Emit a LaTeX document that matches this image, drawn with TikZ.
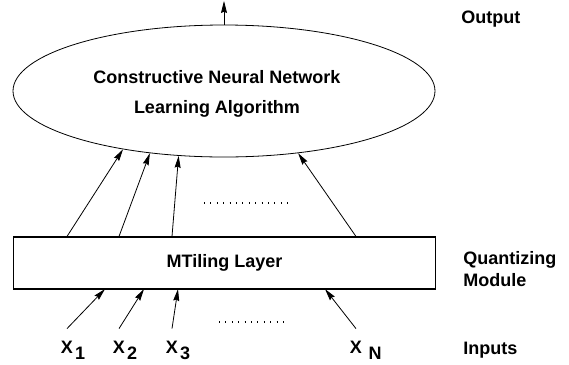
\documentclass[tikz,border=0pt]{standalone}
\usepackage{fontspec}
\setmainfont{Liberation Sans}
\usetikzlibrary{arrows.meta}
\usetikzlibrary{shapes}
\usetikzlibrary{positioning}

% index set low beside the X, without widening the node
\newcommand{\idx}[2][1.5pt]{\rlap{\hspace{#1}\raisebox{-5pt}{#2}}}

\begin{document}
\begin{tikzpicture}[x=0.75pt,y=-0.75pt,
        every node/.style={font=\fontsize{13.5}{16}\selectfont\bfseries},
        arr/.style={draw,line width=0.6pt,-{Stealth[length=9pt,width=4.5pt,inset=1pt]}},
        dots/.style={line width=0.8pt,dash pattern=on 0.8pt off 4pt},
        input/.style={anchor=base,inner sep=1pt,outer sep=8pt},
        side/.style={anchor=west,align=left,inner sep=0pt},
  ]
    \useasboundingbox (0,0) rectangle (569,365);

    % algorithm on top, quantizing layer under it
    \node[ellipse,draw,line width=0.6pt,minimum width=316.5pt,minimum height=99pt] (cnn) at (224,91) {};
    \node[align=center,font=\fontsize{13.5}{22}\selectfont\bfseries] (cnntext) at (217,94)
        {Constructive Neural Network\\Learning Algorithm};
    \node[rectangle,draw,line width=0.8pt,minimum width=317pt,minimum height=39pt] (mtl) at (224.5,263)
        {MTiling Layer};

    % inputs
    \node[input] (x1) at (67,353) {X\idx{1}};
    \node[input] (x2) at (119,353) {X\idx{2}};
    \node[input] (x3) at (172,353) {X\idx{3}};
    \node[input] (xn) at (356,353) {X\idx[5pt]{N}};

    \node[side] (outlbl) at (461,19) {Output};
    \node[side] (qlbl) at (463,269) {Quantizing\\Module};
    \node[side] (inlbl) at (463,350) {Inputs};

    \coordinate (out) at (224,1);
    \coordinate (h1) at (105,289);
    \coordinate (h2) at (144,289);
    \coordinate (h3) at (178,289);
    \coordinate (hn) at (325,289);

    % inputs into the layer
    \draw[arr] (x1.north) -- (h1);
    \draw[arr] (x2.north) -- (h2);
    \draw[arr] (x3.north) -- (h3);
    \draw[arr] (xn.north) -- (hn);

    % layer outputs into the algorithm
    \draw[arr] (x1 |- mtl.north) -- (cnn.210);
    \draw[arr] (x2 |- mtl.north) -- (cnn.220);
    \draw[arr] (x3 |- mtl.north) -- (cnn.235);
    \draw[arr] (xn |- mtl.north) -- (cnn.320);

    \draw[arr] (cnn.north) -- (out);

    \draw[dots] (204,203) -- (288,203);
    \draw[dots] (219,322) -- (289,322);
\end{tikzpicture}
\end{document}
